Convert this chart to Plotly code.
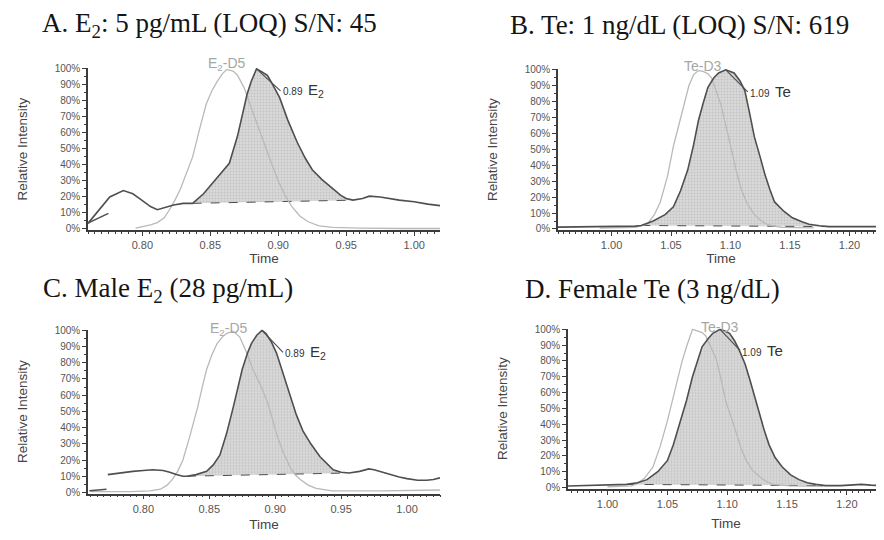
import plotly.graph_objects as go

# ── Panel A: E2 at LOQ (5 pg/mL) ─────────────────────────────────────────────
a_time = [0.760, 0.769, 0.776, 0.786, 0.793, 0.798, 0.806, 0.811, 0.818, 0.823,
          0.830, 0.837, 0.845, 0.852, 0.858, 0.864, 0.870, 0.874, 0.877, 0.880,
          0.884, 0.888, 0.892, 0.896, 0.901, 0.907, 0.914, 0.920, 0.925, 0.932,
          0.940, 0.946, 0.950, 0.955, 0.962, 0.967, 0.975, 0.982, 0.989, 1.000,
          1.010, 1.020]
a_int = [3.5, 13, 20, 24, 22, 19, 14, 12, 13.5, 15,
         16, 16, 22, 29, 35, 41, 58, 72, 84, 92,
         100, 98, 96, 90, 82, 68, 54, 44, 37, 31,
         25, 21, 19, 18, 19, 20.5, 20, 19, 18, 17,
         15.5, 14.5]
a_stub_time = [0.760, 0.775]
a_stub_int = [3.7, 9.8]
a_is_time = [0.795, 0.800, 0.806, 0.811, 0.816, 0.820, 0.824, 0.828, 0.832, 0.837,
             0.842, 0.847, 0.851, 0.855, 0.859, 0.862, 0.865, 0.867, 0.870, 0.875,
             0.880, 0.885, 0.890, 0.895, 0.900, 0.905, 0.910, 0.916, 0.922, 0.930,
             0.940, 0.960, 0.990, 1.020]
a_is_int = [0.5, 1.5, 2.5, 4, 7, 12, 18, 25, 34, 45,
            62, 78, 86, 92, 97, 99.5, 99, 98.5, 96, 88,
            76, 64, 52, 41, 30, 21, 14, 8, 4.5, 2,
            1, 0.5, 0.3, 0.3]
a_window = (0.837, 0.955)

# ── Panel B: Te at LOQ (1 ng/dL) ─────────────────────────────────────────────
b_time = [0.955, 0.990, 1.010, 1.020, 1.025, 1.035, 1.045, 1.052, 1.058, 1.064,
          1.069, 1.073, 1.077, 1.081, 1.086, 1.090, 1.096, 1.103, 1.108, 1.112,
          1.116, 1.120, 1.125, 1.129, 1.133, 1.137, 1.145, 1.152, 1.160, 1.166,
          1.175, 1.183, 1.200, 1.215, 1.230]
b_int = [1.2, 1.5, 1.5, 1.8, 2.2, 5, 9, 14, 24, 37,
         53, 68, 79, 89, 95, 98, 100, 98, 93, 87,
         73, 58, 45, 34, 25, 17, 11, 7, 4.5, 3,
         2, 1.5, 1.5, 1.5, 1.5]
b_is_time = [0.990, 1.020, 1.030, 1.036, 1.041, 1.047, 1.052, 1.057, 1.061, 1.065,
             1.069, 1.073, 1.077, 1.081, 1.084, 1.088, 1.092, 1.097, 1.101, 1.105,
             1.109, 1.114, 1.120, 1.126, 1.132, 1.143, 1.170]
b_is_int = [0.5, 1, 3, 9, 17, 33, 52, 67, 78, 90,
            97, 99.5, 99, 97.5, 95, 87, 78, 62, 48, 36,
            25, 16, 9, 5, 2.5, 1, 0.7]
b_window = (1.025, 1.183)

# ── Panel C: male E2 (28 pg/mL) ──────────────────────────────────────────────
c_time = [0.773, 0.782, 0.792, 0.800, 0.807, 0.815, 0.820, 0.825, 0.830, 0.833,
          0.840, 0.848, 0.853, 0.858, 0.863, 0.868, 0.872, 0.875, 0.879, 0.882,
          0.886, 0.890, 0.893, 0.897, 0.901, 0.906, 0.911, 0.916, 0.921, 0.927,
          0.934, 0.940, 0.944, 0.950, 0.956, 0.964, 0.971, 0.975, 0.979, 0.984,
          0.988, 0.994, 1.000, 1.008, 1.015, 1.020, 1.025]
c_int = [11, 12, 13, 13.5, 14, 13.5, 12.5, 11, 10, 10,
         11, 13, 17, 23, 36, 52, 65, 76, 86, 92,
         97, 100, 98, 93, 86, 73, 60, 48, 38, 30,
         22, 17, 14, 12.5, 12, 13, 14.5, 14, 13, 12,
         11, 9.5, 8.5, 7.5, 7.5, 8, 9]
c_stub_time = [0.759, 0.766, 0.772]
c_stub_int = [1, 1.5, 2]
c_is_time = [0.760, 0.790, 0.805, 0.813, 0.818, 0.822, 0.826, 0.830, 0.835, 0.841,
             0.845, 0.848, 0.852, 0.856, 0.860, 0.863, 0.868, 0.873, 0.878, 0.883,
             0.889, 0.894, 0.898, 0.901, 0.906, 0.911, 0.915, 0.919, 0.925, 0.931,
             0.943, 0.980, 1.025]
c_is_int = [0.5, 0.5, 1, 2, 4.5, 8, 13, 20, 34, 52,
            66, 76, 85, 92, 96, 98, 99.5, 96, 87, 76,
            66, 56, 45, 36, 25, 16, 11, 8, 4.5, 2.5,
            1, 1, 1.5]
c_window = (0.833, 0.956)

# ── Panel D: female Te (3 ng/dL) ─────────────────────────────────────────────
d_time = [0.967, 0.990, 1.005, 1.016, 1.025, 1.033, 1.042, 1.050, 1.055, 1.060,
          1.066, 1.071, 1.075, 1.079, 1.084, 1.088, 1.094, 1.098, 1.102, 1.106,
          1.110, 1.115, 1.119, 1.123, 1.127, 1.131, 1.135, 1.140, 1.146, 1.153,
          1.160, 1.167, 1.174, 1.182, 1.195, 1.205, 1.212, 1.220, 1.231]
d_int = [1, 1.5, 1.5, 2, 3, 5, 10, 17, 27, 40,
         55, 70, 80, 89, 94, 97.5, 100, 99, 97.5, 93,
         87, 78, 68, 57, 46, 36, 27, 19, 13, 8,
         5, 3, 2, 1.2, 1.2, 1.5, 2, 1.5, 1.2]
d_is_time = [1.000, 1.020, 1.025, 1.031, 1.038, 1.044, 1.050, 1.054, 1.058, 1.062,
             1.066, 1.069, 1.071, 1.075, 1.079, 1.082, 1.087, 1.091, 1.095, 1.099,
             1.104, 1.108, 1.112, 1.116, 1.121, 1.127, 1.132, 1.138, 1.152, 1.180]
d_is_int = [0.5, 1, 2.5, 6, 13, 26, 42, 55, 68, 79,
            89, 96, 100, 99, 98, 96, 88, 81, 68, 54,
            43, 33, 24, 17, 11, 7, 4, 2, 1, 0.8]
d_window = (1.016, 1.182)

# ── Style ────────────────────────────────────────────────────────────────────
DARK = "#4f4f4f"
LIGHT = "#b9b9b9"
AX = "#3c3c3c"
SANS = "Liberation Sans, Arial, sans-serif"
SERIF = "Liberation Serif, Times New Roman, serif"

# the page body adds an 8px margin, so the figure is sized/placed to compensate
OFF = 8
W, H = 884 - OFF, 540 - OFF


def fx(px):
    return (px - OFF) / W


def fy(py):
    return 1 - (py - OFF) / H


fig = go.Figure()


def add_panel(n, t, i, is_t, is_i, window, stub=None):
    xa = "x" if n == 1 else f"x{n}"
    ya = "y" if n == 1 else f"y{n}"
    lo, hi = window
    pk_t = [tt for tt in t if lo <= tt <= hi]
    pk_i = [ii for tt, ii in zip(t, i) if lo <= tt <= hi]
    common = dict(xaxis=xa, yaxis=ya, mode="lines", showlegend=False, hoverinfo="skip")
    # integrated peak area
    fig.add_trace(go.Scatter(
        x=pk_t, y=pk_i, fill="toself", line=dict(width=0),
        fillpattern=dict(shape=".", bgcolor="#dadada", fgcolor="#ababab",
                         size=3, solidity=0.4),
        **common))
    # integration baseline
    fig.add_trace(go.Scatter(x=[pk_t[0], pk_t[-1]], y=[pk_i[0], pk_i[-1]],
                             line=dict(color=DARK, width=1, dash="dash"), **common))
    # internal standard
    fig.add_trace(go.Scatter(x=is_t, y=is_i, line=dict(color=LIGHT, width=1.3), **common))
    # analyte
    fig.add_trace(go.Scatter(x=t, y=i, line=dict(color=DARK, width=1.6), **common))
    if stub:
        fig.add_trace(go.Scatter(x=stub[0], y=stub[1],
                                 line=dict(color=DARK, width=1.4), **common))


add_panel(1, a_time, a_int, a_is_time, a_is_int, a_window, (a_stub_time, a_stub_int))
add_panel(2, b_time, b_int, b_is_time, b_is_int, b_window)
add_panel(3, c_time, c_int, c_is_time, c_is_int, c_window, (c_stub_time, c_stub_int))
add_panel(4, d_time, d_int, d_is_time, d_is_int, d_window)


def x_axis(domain, rng, anchor, standoff):
    return dict(
        domain=domain, range=rng, anchor=anchor, dtick=0.05, tick0=0.8,
        tickformat=".2f", ticks="outside", ticklen=4, tickcolor=AX,
        showline=True, linecolor=AX, linewidth=1.5, showgrid=False, zeroline=False,
        tickfont=dict(family=SANS, size=11, color="#555"),
        minor=dict(ticks="outside", ticklen=2, dtick=0.005, tickcolor=AX),
        title=dict(text="Time", font=dict(family=SANS, size=13.5, color="#444"),
                   standoff=standoff),
    )


def y_axis(domain, anchor):
    return dict(
        domain=domain, range=[-0.8, 100.5], anchor=anchor, dtick=10,
        ticksuffix="%", ticks="outside", ticklen=4, tickcolor=AX,
        showline=True, linecolor=AX, linewidth=1.5, showgrid=False, zeroline=False,
        tickfont=dict(family=SANS, size=10, color="#555"),
        minor=dict(ticks="outside", ticklen=2, dtick=5, tickcolor=AX),
        title=dict(text="Relative Intensity",
                   font=dict(family=SANS, size=13.5, color="#444"), standoff=24),
    )


fig.update_layout(
    width=W, height=H, margin=dict(l=0, r=0, t=0, b=0),
    paper_bgcolor="white", plot_bgcolor="white",
    xaxis=x_axis([fx(88), fx(440)], [0.76, 1.019], "y", 2),
    yaxis=y_axis([fy(229), fy(64)], "x"),
    xaxis2=x_axis([fx(558), 1.0], [0.955, 1.229], "y2", 2),
    yaxis2=y_axis([fy(229), fy(65)], "x2"),
    xaxis3=x_axis([fx(88), fx(440)], [0.758, 1.025], "y3", 6),
    yaxis3=y_axis([fy(497), fy(330)], "x3"),
    xaxis4=x_axis([fx(568), 1.0], [0.967, 1.231], "y4", 10),
    yaxis4=y_axis([fy(492), fy(329)], "x4"),
)

# panel titles
titles = [
    ("A. E<sub>2</sub>: 5 pg/mL (LOQ) S/N: 45", 40, 20),
    ("B. Te: 1 ng/dL (LOQ) S/N: 619", 508, 20),
    ("C. Male E<sub>2</sub> (28 pg/mL)", 41, 290),
    ("D. Female Te (3 ng/dL)", 523, 289),
]
for text, px, py in titles:
    fig.add_annotation(text=text, xref="paper", yref="paper", x=fx(px), y=fy(py),
                       xanchor="left", yanchor="middle", showarrow=False,
                       font=dict(family=SERIF, size=27, color="#151515"))

# internal-standard labels (around the top of each plot area)
is_labels = [
    ("E<sub>2</sub>-D5", "x", "y domain", 0.862, 1.025),
    ("Te-D3", "x2", "y2 domain", 1.077, 1.02),
    ("E<sub>2</sub>-D5", "x3", "y3 domain", 0.865, 1.005),
    ("Te-D3", "x4", "y4 domain", 1.094, 1.01),
]
for text, xr, yr, xv, yv in is_labels:
    fig.add_annotation(text=text, xref=xr, yref=yr, x=xv, y=yv, showarrow=False,
                       xanchor="center", yanchor="middle",
                       font=dict(family=SANS, size=14, color="#a6a6a6"))

# retention-time callouts at analyte apex
callouts = [
    ("0.89", "E<sub>2</sub>", "x", "y", a_time, a_int, 24, 22),
    ("1.09", "Te", "x2", "y2", b_time, b_int, 22, 22),
    ("0.89", "E<sub>2</sub>", "x3", "y3", c_time, c_int, 21, 22),
    ("1.09", "Te", "x4", "y4", d_time, d_int, 20, 21),
]
for rt, name, xr, yr, t, i, ax, ay in callouts:
    k = i.index(max(i))
    fig.add_annotation(
        text=f"{rt}  <span style='font-size:15px'>{name}</span>",
        xref=xr, yref=yr, x=t[k], y=i[k], ax=ax, ay=ay,
        xanchor="left", yanchor="middle", showarrow=True, arrowhead=0,
        arrowwidth=1.2, arrowcolor=DARK, standoff=0, startstandoff=0,
        font=dict(family=SANS, size=10, color="#333"))

fig.write_html("out.html")
